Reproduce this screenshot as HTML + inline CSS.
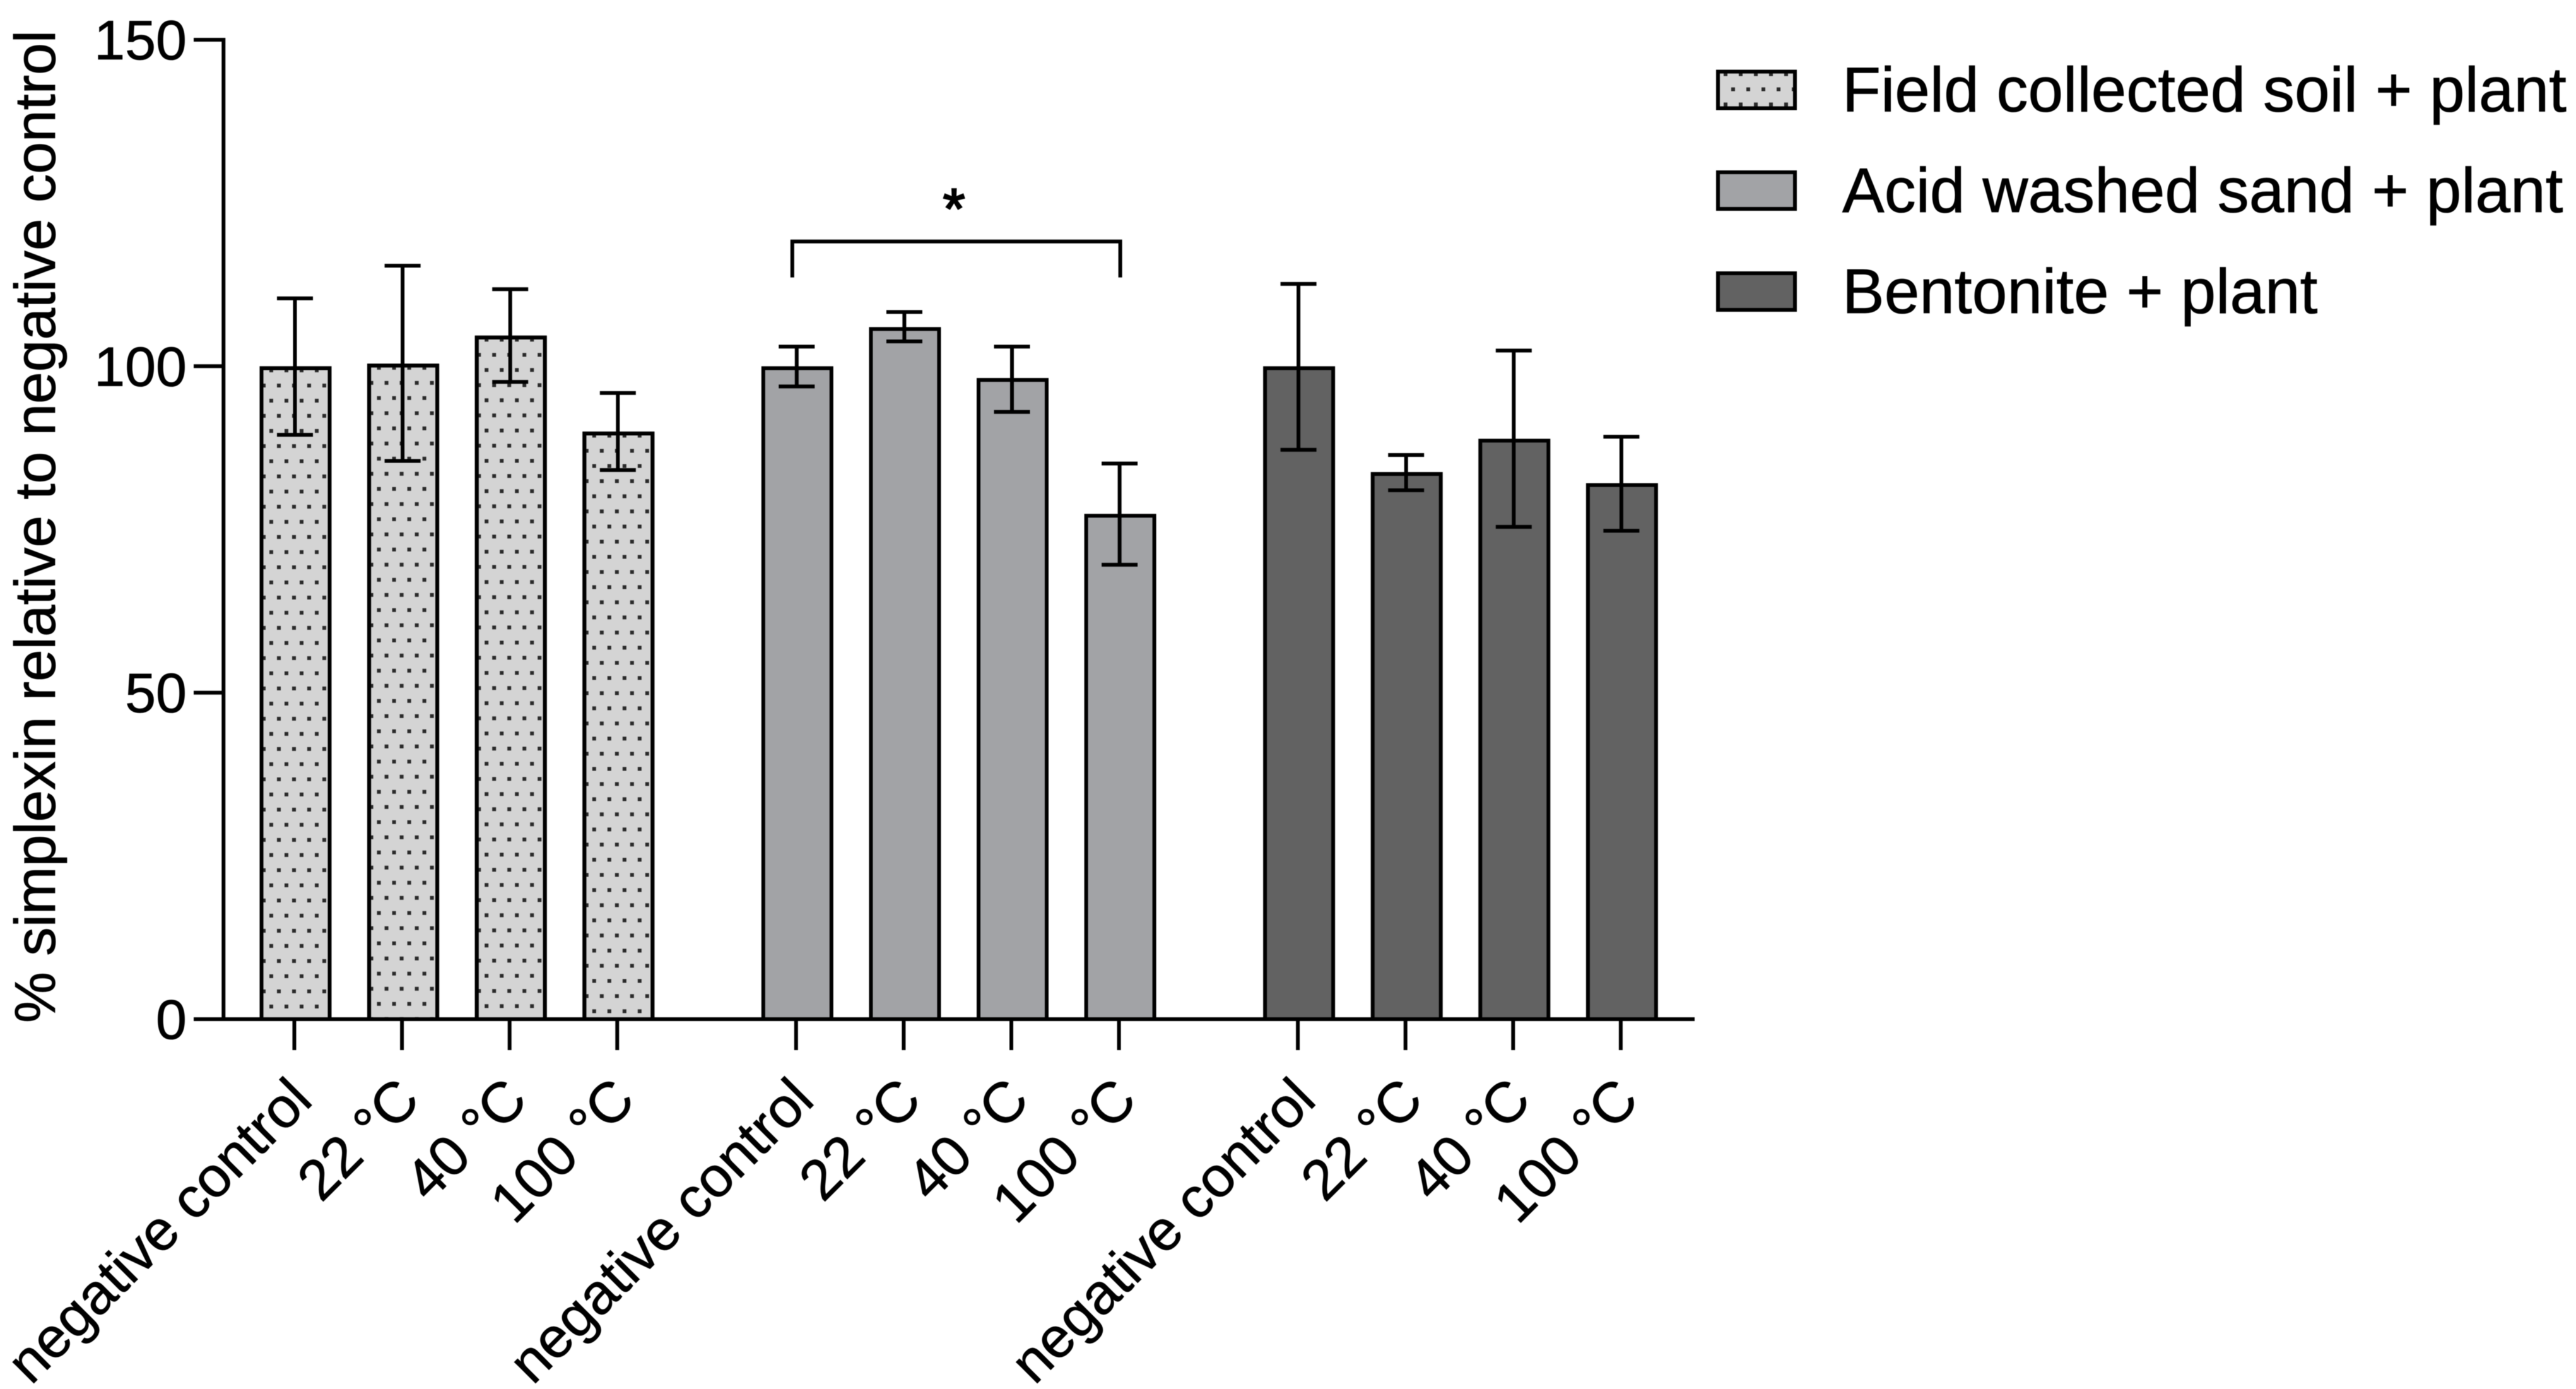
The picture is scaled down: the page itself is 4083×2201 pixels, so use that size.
<!DOCTYPE html>
<html lang="en">
<head>
<meta charset="utf-8">
<title>Simplexin relative to negative control</title>
<style>
html,body{margin:0;padding:0;background:#fff;width:4083px;height:2201px;overflow:hidden}
svg{display:block;filter:blur(0.5px)}
text{font-family:"Liberation Sans",Arial,sans-serif;fill:#000;stroke:#000;stroke-width:0.8px}
</style>
</head>
<body>
<svg id="chart" xmlns="http://www.w3.org/2000/svg" width="4083" height="2201" viewBox="0 0 4083 2201">
  <rect x="0" y="0" width="4083" height="2201" fill="#fff"/>
  <defs>
    <pattern id="legend-dots" patternUnits="userSpaceOnUse" x="2723" y="117.5" width="24" height="48">
      <rect x="-3" y="21" width="6" height="6" fill="#2a2a2a"/>
      <rect x="21" y="21" width="6" height="6" fill="#2a2a2a"/>
      <rect x="9" y="-3" width="6" height="6" fill="#2a2a2a"/>
      <rect x="9" y="45" width="6" height="6" fill="#2a2a2a"/>
    </pattern>
  </defs>
  <g id="bars"></g>
  <g id="error-bars"></g>
  <g id="axes"></g>
  <g id="annotation"></g>
  <text transform="translate(87 1621) rotate(-90)" font-size="91">% simplexin relative to negative control</text>
  <g>
    <g>
      <rect x="2723" y="113.5" width="122" height="58" fill="#d4d4d4"/>
      <rect x="2723" y="113.5" width="122" height="58" fill="url(#legend-dots)" stroke="#000" stroke-width="6"/>
      <text x="2920" y="176.5" font-size="100">Field collected soil + plant</text>
    </g>
    <g>
      <rect x="2723" y="273" width="122" height="58" fill="#a2a3a6" stroke="#000" stroke-width="6"/>
      <text x="2920" y="336" font-size="100">Acid washed sand + plant</text>
    </g>
    <g>
      <rect x="2723" y="433" width="122" height="58" fill="#626262" stroke="#000" stroke-width="6"/>
      <text x="2920" y="496" font-size="100">Bentonite + plant</text>
    </g>
  </g>
</svg>
<script>
// ---- chart data ----
const categories = ['negative control', '22 °C', '40 °C', '100 °C'];
const yTickValues = [0, 50, 100, 150];
const fieldMeans = [99.7, 100.1, 104.4, 89.7];
const fieldUpper = [110.4, 115.4, 111.8, 95.9];
const fieldLower = [89.5, 85.5, 97.6, 84.1];
const sandMeans = [99.7, 105.7, 97.9, 77.1];
const sandUpper = [103, 108.3, 103, 85.1];
const sandLower = [96.9, 103.8, 93, 69.6];
const bentoniteMeans = [99.7, 83.5, 88.6, 81.8];
const bentoniteUpper = [112.6, 86.4, 102.4, 89.2];
const bentoniteLower = [87.2, 81, 75.4, 74.8];
const bracketValue = 119.1;
const bracketDropValue = 113.6;
const significanceLabel = '*';

// ---- axis functions ----
const NS = 'http://www.w3.org/2000/svg';
const Y_ZERO = 1615;
const Y_UNIT = 10.347;
function yScale(v) { return Y_ZERO - v * Y_UNIT; }
function xScale(groupIndex, catIndex) { return 468.5 + 170.6 * catIndex + 795.3 * groupIndex; }

const BAR_WIDTH = 108;
const STROKE = 6;
const CAP_WIDTH = 57;

function make(tag, attrs, parent) {
  const el = document.createElementNS(NS, tag);
  for (const k in attrs) el.setAttribute(k, attrs[k]);
  parent.appendChild(el);
  return el;
}

const svg = document.getElementById('chart');
const defs = svg.querySelector('defs');
const barsLayer = document.getElementById('bars');
const errLayer = document.getElementById('error-bars');
const axesLayer = document.getElementById('axes');
const annLayer = document.getElementById('annotation');

const groups = [
  { key: 'field', means: fieldMeans, upper: fieldUpper, lower: fieldLower, fill: '#d4d4d4', dots: true },
  { key: 'sand', means: sandMeans, upper: sandUpper, lower: sandLower, fill: '#a2a3a6', dots: false },
  { key: 'bentonite', means: bentoniteMeans, upper: bentoniteUpper, lower: bentoniteLower, fill: '#626262', dots: false }
];

// ---- bars and error bars ----
groups.forEach(function (group, g) {
  group.means.forEach(function (mean, i) {
    const cx = xScale(g, i);
    const left = cx - BAR_WIDTH / 2;
    const top = yScale(mean);
    const bar = make('rect', { x: left, y: top, width: BAR_WIDTH, height: Y_ZERO - top, fill: group.fill, stroke: '#000', 'stroke-width': STROKE }, barsLayer);
    
    

    if (group.dots) {
      const pid = 'dots-' + g + '-' + i;
      const p = make('pattern', { id: pid, patternUnits: 'userSpaceOnUse', x: left + 3.5, y: top + 3.5, width: 24, height: 48 }, defs);
      make('rect', { x: -3, y: 21, width: 6, height: 6, fill: '#2a2a2a' }, p);
      make('rect', { x: 21, y: 21, width: 6, height: 6, fill: '#2a2a2a' }, p);
      make('rect', { x: 9, y: -3, width: 6, height: 6, fill: '#2a2a2a' }, p);
      make('rect', { x: 9, y: 45, width: 6, height: 6, fill: '#2a2a2a' }, p);
      const dotted = make('rect', { x: left, y: top, width: BAR_WIDTH, height: Y_ZERO - top, fill: 'url(#' + pid + ')', stroke: '#000', 'stroke-width': STROKE }, barsLayer);
      
      
    }

    const ex = cx - 1;
    const yUp = yScale(group.upper[i]);
    const yLo = yScale(group.lower[i]);
    const stem = make('line', { x1: ex, x2: ex, y1: yUp, y2: yLo, stroke: '#000', 'stroke-width': STROKE }, errLayer);
    
    
    const capTop = make('line', { x1: ex - CAP_WIDTH / 2, x2: ex + CAP_WIDTH / 2, y1: yUp, y2: yUp, stroke: '#000', 'stroke-width': STROKE }, errLayer);
    
    
    const capLow = make('line', { x1: ex - CAP_WIDTH / 2, x2: ex + CAP_WIDTH / 2, y1: yLo, y2: yLo, stroke: '#000', 'stroke-width': STROKE }, errLayer);
    
    

    // x tick and label
    const tx = cx - 2;
    const tick = make('line', { x1: tx, x2: tx, y1: Y_ZERO, y2: 1664, stroke: '#000', 'stroke-width': STROKE }, axesLayer);
    
    
    const label = make('text', { transform: 'translate(' + (tx + 32) + ' 1747) rotate(-45)', 'text-anchor': 'end', 'font-size': 90 }, axesLayer);
    label.textContent = categories[i];
    
    
  });
});

// ---- axes ----
const yAxis = make('line', { x1: 354.3, x2: 354.3, y1: yScale(150) - 3, y2: Y_ZERO, stroke: '#000', 'stroke-width': STROKE }, axesLayer);


const xAxis = make('line', { x1: 307, x2: 2686, y1: Y_ZERO, y2: Y_ZERO, stroke: '#000', 'stroke-width': STROKE }, axesLayer);



yTickValues.forEach(function (v) {
  const y = yScale(v);
  const t = make('line', { x1: 307, x2: 357, y1: y, y2: y, stroke: '#000', 'stroke-width': STROKE }, axesLayer);
  
  
  const l = make('text', { x: 296, y: y + 31, 'text-anchor': 'end', 'font-size': 88 }, axesLayer);
  l.textContent = String(v);
  
  
});

// ---- significance bracket ----
const bx1 = xScale(1, 0) - 8;
const bx2 = xScale(1, 3);
const bracket = make('path', {
  d: 'M' + bx1 + ' ' + yScale(bracketDropValue) + 'V' + yScale(bracketValue) + 'H' + bx2 + 'V' + yScale(bracketDropValue),
  fill: 'none', stroke: '#000', 'stroke-width': STROKE
}, annLayer);


const star = make('text', { x: (bx1 + bx2) / 2 - 3.5, y: yScale(bracketValue) - 21, 'text-anchor': 'middle', 'font-size': 90, style: 'stroke-width:2.5px' }, annLayer);
star.textContent = significanceLabel;


</script>
</body>
</html>
